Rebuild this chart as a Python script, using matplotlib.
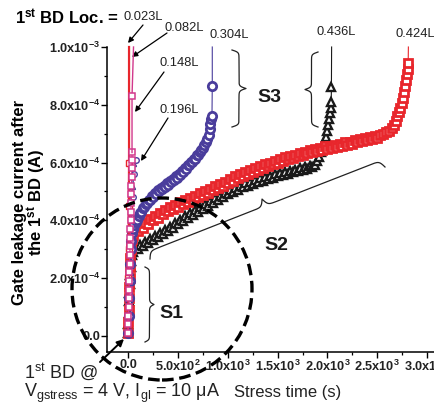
import numpy as np
import matplotlib
matplotlib.use("Agg")
import matplotlib.pyplot as plt
from matplotlib.patches import Ellipse
from matplotlib.lines import Line2D
from matplotlib.ticker import FixedLocator, MultipleLocator

# ---------------- data (time in s, current in 1e-4 A) ----------------
t_023 = [0, 2, 4, 6, 8, 10, 10]
i_023 = [0.1, 1.0, 2.0, 3.0, 4.5, 6.0, 10.0]

t_082 = [0, 2, 4, 6, 8, 10, 12, 14, 16, 18, 20, 22, 24, 26, 28, 30, 32, 34,
         36, 38, 40, 40]
i_082 = [0.1, 0.4, 0.7, 1.0, 1.3, 1.6, 1.9, 2.2, 2.5, 2.8, 3.1, 3.4, 3.7,
         4.0, 4.3, 4.6, 4.9, 5.2, 5.5, 5.8, 6.1, 6.35]
t_082_top = [40, 40, 55]
i_082_top = [6.35, 8.3, 10.0]

t_148 = [0, 8, 16, 24, 32, 40, 48]
i_148 = [0.2, 1.2, 2.2, 3.2, 4.2, 5.2, 6.0]

t_196 = [0, 10, 20, 30, 45, 60, 75]
i_196 = [0.1, 1.5, 2.8, 3.8, 4.8, 5.6, 6.1]

t_304 = [0, 5, 10, 15, 20, 25, 30, 40, 50, 60, 75, 90, 105, 120, 135, 150,
         165, 180, 195, 210, 225, 240, 255, 270, 285, 300, 315, 330, 345, 360,
         375, 390, 405, 420, 435, 450, 465, 480, 495, 510, 525, 540, 555, 570,
         585, 600, 615, 630, 645, 660, 675, 690, 705, 720, 735, 750, 765, 780,
         795, 808, 818, 826, 834, 842, 845, 845]
i_304 = [0.1, 0.7, 1.3, 1.9, 2.5, 3.0, 3.3, 3.55, 3.7, 3.85, 3.95, 4.0,
         4.15, 4.25, 4.3, 4.42, 4.45, 4.58, 4.6, 4.72, 4.72, 4.84, 4.82, 4.94,
         4.92, 5.04, 5.0, 5.12, 5.08, 5.2, 5.16, 5.28, 5.24, 5.36, 5.32, 5.44,
         5.4, 5.52, 5.48, 5.6, 5.58, 5.7, 5.68, 5.8, 5.78, 5.9, 5.9, 6.02,
         6.02, 6.14, 6.14, 6.26, 6.28, 6.38, 6.44, 6.52, 6.6, 6.7, 6.8, 6.95,
         7.15, 7.35, 7.5, 7.62, 8.66, 10.0]

t_436 = [0, 3, 6, 9, 12, 15, 20, 25, 30, 40,
         50, 75, 100, 125, 150, 175, 200, 225, 250, 275, 300, 325, 350, 375,
         400, 425, 450, 475, 500, 525, 550, 575, 600, 625, 650, 675, 700, 725,
         750, 775, 800, 825, 850, 875, 900, 925, 950, 975, 1000, 1025, 1050,
         1075, 1100, 1125, 1150, 1175, 1200, 1225, 1250, 1275, 1300, 1325,
         1350, 1375, 1400, 1425, 1450, 1475, 1500, 1525, 1550, 1575, 1600,
         1625, 1650, 1675, 1700, 1725, 1750, 1775, 1800, 1825, 1850,
         1875, 1895, 1915, 1935, 1955, 1970, 1985, 1998, 2010, 2020, 2028,
         2034, 2038, 2040, 2042]
i_436 = [0.1, 0.4, 0.8, 1.2, 1.5, 1.8, 2.1, 2.4, 2.6, 2.8,
         2.9, 3.05, 3.02, 3.15, 3.12, 3.26, 3.22, 3.36, 3.32, 3.46, 3.42, 3.56,
         3.52, 3.66, 3.62, 3.78, 3.74, 3.9, 3.86, 4.02, 3.98, 4.14, 4.1, 4.26,
         4.2, 4.36, 4.3, 4.46, 4.4, 4.56, 4.5, 4.66, 4.6, 4.76, 4.7, 4.86, 4.8,
         4.96, 4.9, 5.04, 4.98, 5.12, 5.06, 5.2, 5.14, 5.28, 5.2, 5.34, 5.26,
         5.4, 5.32, 5.45, 5.38, 5.5, 5.44, 5.55, 5.48, 5.6, 5.54, 5.64, 5.58,
         5.68, 5.62, 5.72, 5.66, 5.76, 5.7, 5.8, 5.74, 5.84, 5.78, 5.88, 5.84,
         5.92, 6.05, 6.2, 6.35, 6.55, 6.7, 6.9, 7.1, 7.3, 7.5, 7.7,
         7.9, 8.1, 8.6, 10.0]

t_424 = [0, 3, 6, 9, 12, 15, 18, 22, 26, 30, 35, 40,
         50, 75, 100, 125, 150, 175, 200, 225, 250, 275, 300, 325, 350, 375,
         400, 425, 450, 475, 500, 525, 550, 575, 600, 625, 650, 675, 700, 725,
         750, 775, 800, 825, 850, 875, 900, 925, 950, 975, 1000, 1025, 1050,
         1075, 1100, 1125, 1150, 1175, 1200, 1225, 1250, 1275, 1300, 1325,
         1350, 1375, 1400, 1425, 1450, 1475, 1500, 1525, 1550, 1575, 1600,
         1625, 1650, 1675, 1700, 1725, 1750, 1775, 1800, 1825, 1850, 1875,
         1900, 1925, 1950, 1975, 2000, 2025, 2050, 2075, 2100, 2125, 2150,
         2175, 2200, 2225, 2250, 2275, 2300, 2325, 2350, 2375, 2400, 2425,
         2450, 2475, 2500,
         2530, 2560, 2590, 2620, 2645, 2665, 2685, 2700, 2715, 2730, 2745,
         2758, 2770, 2780, 2790, 2798, 2805, 2810, 2812]
i_424 = [0.1, 0.5, 0.9, 1.3, 1.7, 2.0, 2.4, 2.7, 3.0, 3.2, 3.35, 3.45,
         3.5, 3.66, 3.62, 3.78, 3.74, 3.9, 3.88, 4.04, 4.0, 4.14, 4.1, 4.26,
         4.22, 4.36, 4.32, 4.46, 4.4, 4.54, 4.48, 4.62, 4.56, 4.7, 4.64, 4.78,
         4.72, 4.86, 4.8, 4.94, 4.88, 5.02, 4.96, 5.1, 5.04, 5.18, 5.12, 5.26,
         5.2, 5.34, 5.28, 5.42, 5.38, 5.52, 5.46, 5.6, 5.54, 5.68, 5.62, 5.74,
         5.68, 5.8, 5.74, 5.88, 5.82, 5.94, 5.88, 6.0, 5.94, 6.06, 6.0, 6.12,
         6.06, 6.18, 6.12, 6.22, 6.16, 6.28, 6.22, 6.34, 6.28, 6.38, 6.32,
         6.44, 6.36, 6.48, 6.4, 6.52, 6.44, 6.56, 6.48, 6.58, 6.5, 6.62, 6.54,
         6.66, 6.58, 6.7, 6.62, 6.72, 6.66, 6.78, 6.7, 6.8, 6.74, 6.84, 6.78,
         6.88, 6.82, 6.92, 6.86,
         6.95, 6.98, 7.05, 7.1, 7.2, 7.3, 7.45, 7.6, 7.75, 7.9, 8.05,
         8.25, 8.45, 8.65, 8.85, 9.05, 9.25, 9.45, 10.0]

y_ticks = [0, 2e-4, 4e-4, 6e-4, 8e-4, 1e-3]
y_labels = ["0.0", "2.0x10$\\mathregular{^{-4}}$", "4.0x10$\\mathregular{^{-4}}$",
            "6.0x10$\\mathregular{^{-4}}$", "8.0x10$\\mathregular{^{-4}}$",
            "1.0x10$\\mathregular{^{-3}}$"]
x_ticks = [0, 500, 1000, 1500, 2000, 2500, 3000]
x_labels = ["0.0", "5.0x10$\\mathregular{^{2}}$", "1.0x10$\\mathregular{^{3}}$",
            "1.5x10$\\mathregular{^{3}}$", "2.0x10$\\mathregular{^{3}}$",
            "2.5x10$\\mathregular{^{3}}$", "3.0x10$\\mathregular{^{3}}$"]

# ---------------- figure ----------------
W, H = 435, 405
fig = plt.figure(figsize=(W / 100, H / 100), dpi=100)
fig.patch.set_facecolor("white")
ax = fig.add_axes([107 / W, 1 - 352 / H, 1 - 107 / W, (352 - 47) / H])
ax.set_xlim(-211, 3079)
ax.set_ylim(-0.554e-4, 1.0e-3)
for s in ["top", "right"]:
    ax.spines[s].set_visible(False)
for s in ["left", "bottom"]:
    ax.spines[s].set_linewidth(1.1)

SANS = ["Liberation Sans", "DejaVu Sans"]

ax.yaxis.set_major_locator(FixedLocator(y_ticks))
ax.yaxis.set_minor_locator(MultipleLocator(1e-4))
ax.xaxis.set_major_locator(FixedLocator(x_ticks))
ax.xaxis.set_minor_locator(MultipleLocator(250))
ax.set_yticklabels(y_labels)
ax.set_xticklabels(x_labels)
ax.tick_params(which="major", direction="out", length=4, width=1.0, pad=1)
ax.tick_params(which="minor", direction="out", length=2.5, width=0.9)
for lbl in ax.get_yticklabels() + ax.get_xticklabels():
    lbl.set_fontfamily(SANS)
    lbl.set_fontweight("bold")
    lbl.set_fontsize(9.2)
    lbl.set_color("#222222")

RED = "#e8262c"
MAG = "#d2388c"
BLUE = "#4a3d9c"
BLK = "#1a1a1a"
NAVY = "#3a3a8c"

def y(v):
    return np.asarray(v) * 1e-4

def series(t, i, color, marker, ms, z, lw=0.8, mew=1.8):
    ax.plot(t, y(i), color=color, lw=lw, zorder=z, clip_on=False)
    ax.plot(t[:-1], y(i)[:-1], ls="none", marker=marker, ms=ms, mfc="white",
            mec=color, mew=mew, zorder=z, clip_on=False)

series(t_436, i_436, BLK, "^", 6.0, 3, mew=1.7)
series(t_424, i_424, RED, "s", 6.2, 4, mew=2.0)
series(t_304, i_304, BLUE, "o", 6.0, 5, mew=2.0)
ax.plot(t_148, y(i_148), ls="-", lw=0.6, marker="^", ms=4, mfc="white",
        mec=NAVY, color=NAVY, zorder=6, clip_on=False)
ax.plot(t_196, y(i_196), ls="-", lw=0.6, marker="o", ms=4, mfc="white",
        mec=BLUE, color=BLUE, zorder=6, clip_on=False)
ax.plot(t_023, y(i_023), color=RED, lw=1.6, zorder=7, clip_on=False)
ax.plot(t_023[:-1], y(i_023)[:-1], ls="none", marker="s", ms=4.5, mfc="white",
        mec=RED, zorder=7, clip_on=False)
ax.plot(t_082, y(i_082), ls="-", lw=0.8, color=MAG, marker="s", ms=5,
        mfc="white", mec=MAG, mew=1.1, zorder=8, clip_on=False)
ax.plot(t_082_top, y(i_082_top), color=MAG, lw=1.0, zorder=8, clip_on=False)
ax.plot(t_082_top[1:2], y(i_082_top)[1:2], ls="none", marker="s", ms=5,
        mfc="white", mec=MAG, mew=1.1, zorder=8, clip_on=False)

# ---------------- annotations (pixel helpers) ----------------
def F(x, yy):
    return (x / W, 1 - yy / H)

def ftext(x, yy, s, **kw):
    fig.text(x / W, 1 - yy / H, s, **kw)

def arrow(x0, y0, x1, y1, lw=0.9, ms=8):
    ax.annotate("", xy=(x1, H - y1), xytext=(x0, H - y0),
                xycoords="figure pixels", textcoords="figure pixels",
                annotation_clip=False,
                arrowprops=dict(arrowstyle="-|>", color="black", lw=lw,
                                mutation_scale=ms, shrinkA=0, shrinkB=0))

def brace(p0, p1, w, side=1, beta=0.9, lw=0.9):
    p0 = np.array(p0, float)
    p1 = np.array(p1, float)
    L = np.hypot(*(p1 - p0))
    u = (p1 - p0) / L
    n = np.array([-u[1], u[0]]) * side
    s = np.linspace(0, L / 2, 120)
    half = 1 / (1 + np.exp(-beta * (s - s[0]))) + 1 / (1 + np.exp(-beta * (s - s[-1])))
    off = np.concatenate((half, half[-2::-1])) - 0.5
    sf = np.concatenate((s, L - s[-2::-1]))
    pts = p0[None, :] + sf[:, None] * u[None, :] + (w * off)[:, None] * n[None, :]
    fig.add_artist(Line2D(pts[:, 0] / W, 1 - pts[:, 1] / H,
                          transform=fig.transFigure, color="#222222", lw=lw))

# dashed circle
fig.add_artist(Ellipse(F(162, 289), 180 / W, 182 / H, transform=fig.transFigure,
                       fill=False, ec="black", lw=2.4, ls=(0, (3.5, 1.7)),
                       zorder=20))

# title-like text
ftext(15, 17, "1$\\mathregular{^{st}}$ BD Loc. =", fontsize=12, fontweight="bold",
      family=SANS, va="center", ha="left")
lab_kw = dict(fontsize=9.3, family=SANS, va="center", ha="left", color="#222222")
ftext(124, 17, "0.023L", **lab_kw)
ftext(165, 28, "0.082L", **lab_kw)
ftext(160, 63, "0.148L", **lab_kw)
ftext(160, 110, "0.196L", **lab_kw)
ftext(210, 35, "0.304L", **lab_kw)
ftext(317, 32, "0.436L", **lab_kw)
ftext(396, 34, "0.424L", **lab_kw)

arrow(143, 25, 128, 43)
arrow(167, 33, 132, 57)
arrow(164, 72, 135, 112)
arrow(168, 118, 141, 161)
arrow(100, 362, 124, 339, lw=1.4, ms=10)

# braces
brace((232, 50), (232, 127), 14, side=-1)
brace((318, 52), (318, 127), 13, side=1)
brace((145, 267), (145, 342), 9, side=-1)
brace((150, 259), (385, 167), 15, side=-1, beta=0.6)

s_kw = dict(fontsize=14, fontweight="bold", family=SANS, va="center", ha="left",
            color="#1a1a1a")
ftext(257, 97, "S3", **s_kw)
ftext(264, 245, "S2", **s_kw)
ftext(159, 313, "S1", **s_kw)

# axis labels
ftext(20, 202, "Gate leakage current after", rotation=90, fontsize=12,
      fontweight="bold", family=SANS, ha="center", va="center")
ftext(37, 202, "the 1$\\mathregular{^{st}}$ BD (A)", rotation=90, fontsize=12,
      fontweight="bold", family=SANS, ha="center", va="center")
ftext(234, 393, "Stress time (s)", fontsize=12, family=SANS, ha="left",
      va="center", color="#222222")
ftext(24, 372, "1$\\mathregular{^{st}}$ BD @", fontsize=13, family=SANS,
      ha="left", va="center", color="#222222")
ftext(24, 393, "V$\\mathregular{_{gstress}}$ = 4 V, I$\\mathregular{_{gl}}$ = 10 \u03bcA",
      fontsize=13, family=SANS, ha="left", va="center", color="#222222")

fig.savefig("out.png", dpi=100)
